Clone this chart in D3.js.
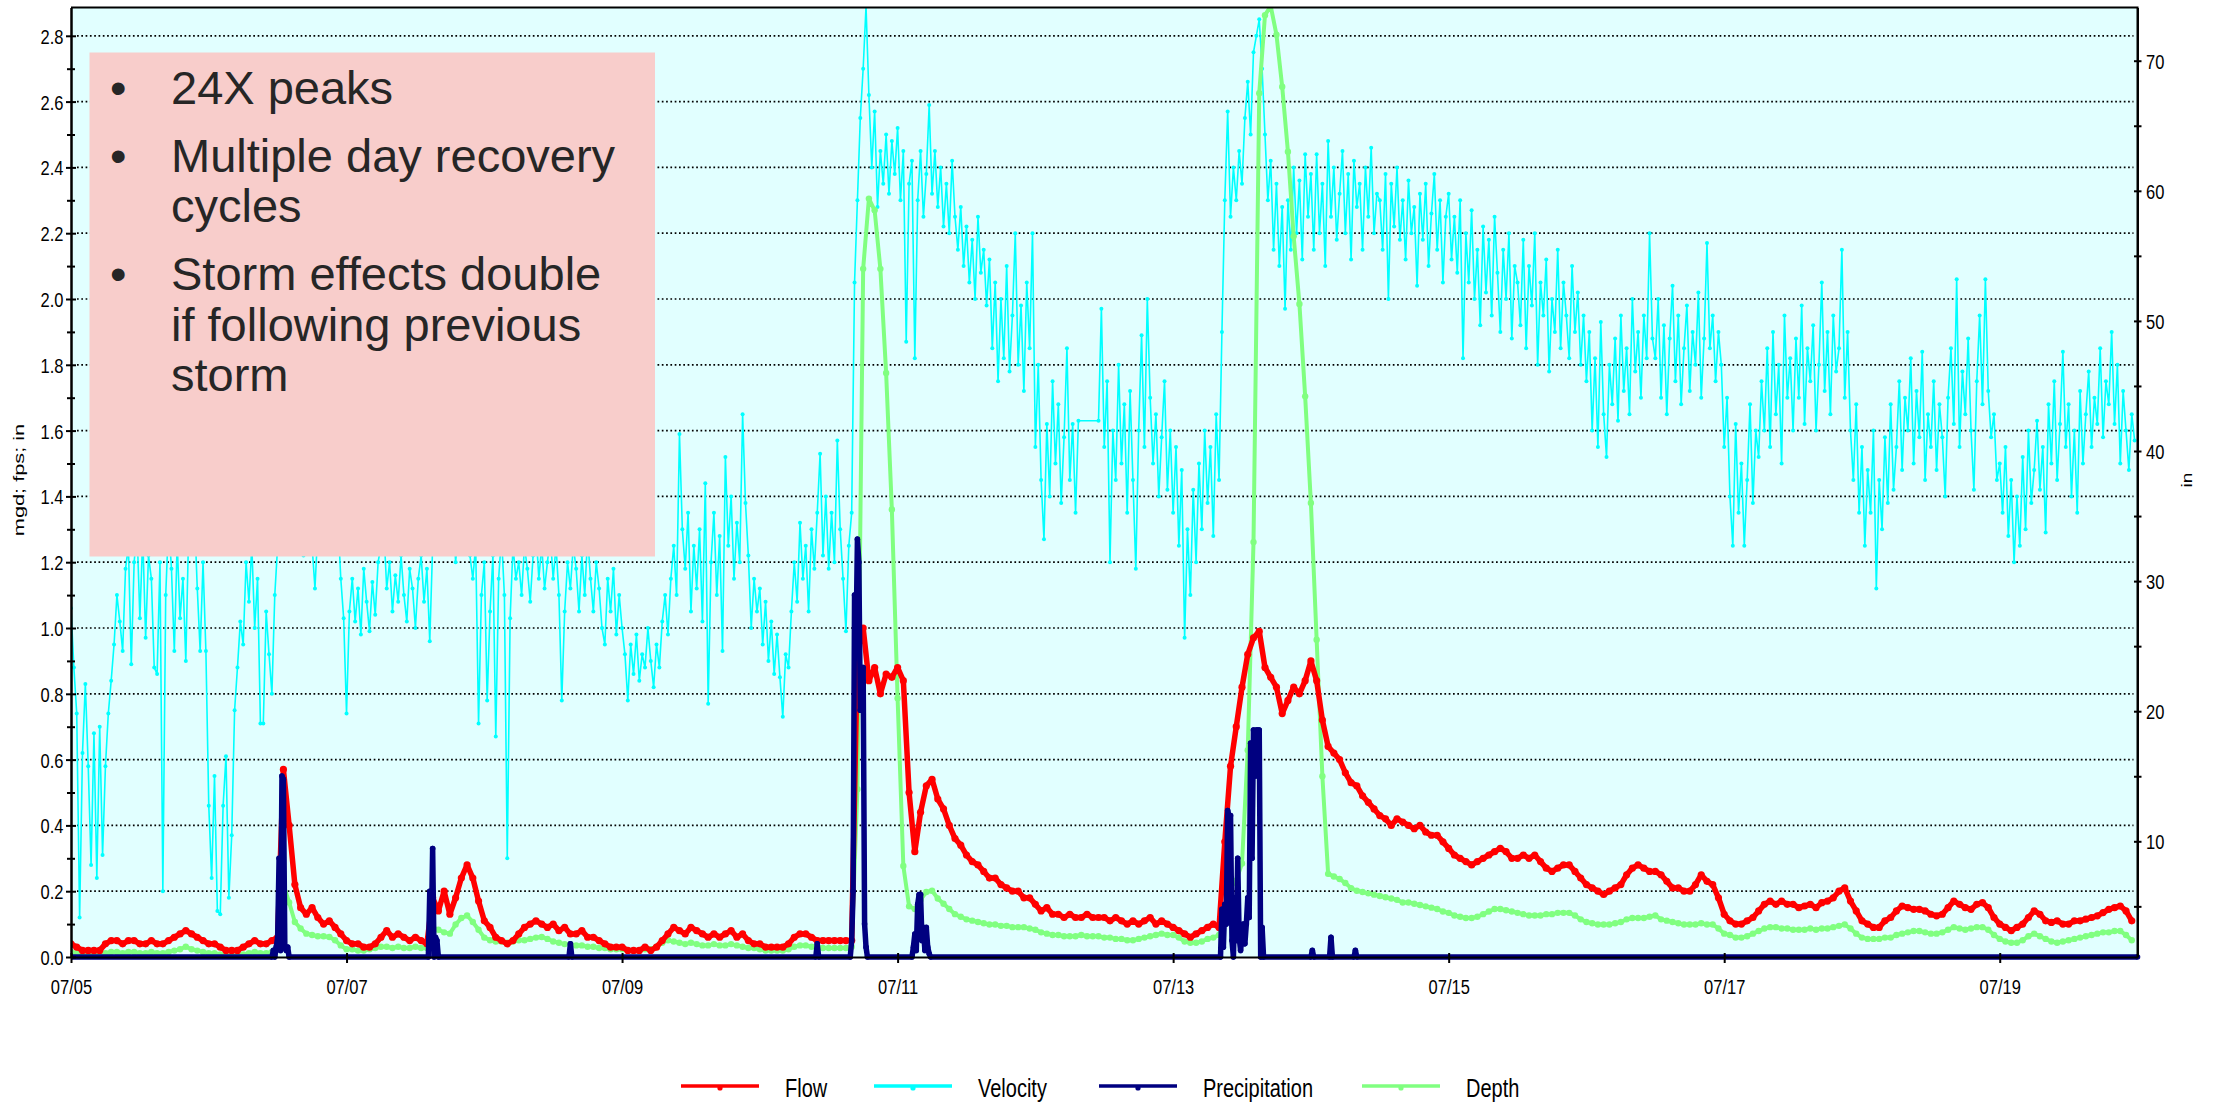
<!DOCTYPE html>
<html lang="en">
<head>
	<meta charset="UTF-8">
	<title>Flow / Velocity / Precipitation / Depth</title>
	<style>
		body { margin: 0; background: #fff; }
		svg { display: block; font-family: "Liberation Sans", Arial, sans-serif; }
	</style>
</head>
<body>

	<svg width=2221 height=1105 id="viz"></svg>

	<script src="https://d3js.org/d3.v7.min.js"></script>
	<script>

	// velocity (fps), one reading every 30 min from 07/05 00:00, 12 hours per row
	const velocity = [
		1.06,0.88,0.74,0.12,0.62,0.83,0.58,0.28,0.68,0.24,0.70,0.31,0.58,0.74,0.84,0.95,1.10,1.02,0.93,1.18,1.25,0.89,1.20,1.30,
		1.03,1.28,0.97,1.22,1.15,0.88,0.86,1.20,0.20,1.10,1.32,1.18,0.93,1.26,1.03,1.15,0.90,1.30,1.24,1.35,1.12,0.93,1.20,0.93,
		0.46,0.24,0.55,0.14,0.13,0.46,0.61,0.18,0.37,0.75,0.88,1.02,0.95,1.20,1.08,1.25,1.00,1.15,0.71,0.71,1.05,0.92,0.80,1.10,
		1.25,1.30,1.28,1.35,1.24,1.32,1.40,1.26,1.30,1.22,1.36,1.28,1.25,1.12,1.30,1.34,1.27,1.38,1.25,1.30,1.24,1.33,1.15,1.03,
		0.74,1.05,1.15,1.02,1.12,0.98,1.18,1.08,0.99,1.14,1.04,1.20,1.25,1.30,1.12,1.20,1.05,1.16,1.08,1.22,1.10,1.02,1.18,1.12,
		1.00,1.15,1.22,1.08,1.18,0.96,1.25,1.30,1.35,1.28,1.40,1.32,1.26,1.38,1.20,1.30,1.34,1.25,1.30,1.22,1.15,1.25,0.71,1.10,
		1.20,0.78,1.05,1.22,0.67,1.15,1.28,1.10,0.30,1.03,1.25,1.15,1.20,1.10,1.25,1.18,1.08,1.22,1.30,1.15,1.25,1.12,1.20,1.28,
		1.15,1.25,1.10,0.78,1.05,1.20,1.12,1.25,1.18,1.05,1.22,1.10,1.28,1.15,1.05,1.20,1.12,1.00,0.95,1.15,1.05,1.18,0.98,1.10,
		1.00,0.92,0.78,0.95,0.86,0.98,0.84,0.92,0.88,1.00,0.90,0.82,0.95,0.88,1.02,1.10,0.98,1.15,1.25,1.10,1.59,1.30,1.18,1.35,
		1.05,1.25,1.12,1.30,1.02,1.44,0.77,1.20,1.35,1.10,1.28,0.93,1.52,1.25,1.40,1.15,1.32,1.20,1.65,1.38,1.22,1.00,1.15,1.05,
		1.12,0.95,1.08,0.90,1.02,0.86,0.98,0.85,0.73,0.92,0.88,1.05,1.20,1.08,1.32,1.15,1.25,1.05,1.30,1.18,1.35,1.53,1.22,1.40,
		1.18,1.35,1.20,1.57,1.30,1.15,0.99,1.25,1.35,2.05,2.30,2.55,2.70,2.89,2.62,2.40,2.57,2.28,2.45,2.35,2.50,2.32,2.48,2.38,
		2.52,2.30,2.45,1.87,2.35,2.42,1.82,2.30,2.45,2.25,2.38,2.59,2.32,2.45,2.28,2.40,2.22,2.35,2.20,2.42,2.25,2.15,2.28,2.10,
		2.22,2.05,2.18,2.00,2.25,2.08,2.15,1.98,2.12,1.85,2.05,1.75,2.00,1.82,2.10,1.78,1.95,2.20,1.80,1.98,1.72,2.05,1.85,2.20,
		1.55,1.80,1.45,1.27,1.62,1.40,1.75,1.50,1.68,1.38,1.58,1.85,1.45,1.62,1.35,1.63,null,null,null,null,null,null,1.63,1.97,
		1.55,1.75,1.20,1.60,1.45,1.80,1.50,1.68,1.35,1.72,1.45,1.18,1.60,1.89,1.55,2.00,1.70,1.50,1.65,1.40,1.58,1.75,1.42,1.60,
		1.35,1.55,1.25,1.48,0.97,1.30,1.10,1.42,1.20,1.50,1.30,1.60,1.38,1.55,1.28,1.65,1.45,1.90,2.30,2.57,2.25,2.40,2.30,2.45,
		2.35,2.55,2.66,2.50,2.75,2.80,2.85,2.70,2.50,2.30,2.42,2.15,2.35,2.10,2.28,1.97,2.30,2.15,2.40,2.20,2.36,2.12,2.44,2.25,
		2.38,2.15,2.44,2.20,2.35,2.10,2.48,2.25,2.40,2.18,2.32,2.45,2.20,2.38,2.12,2.42,2.28,2.35,2.15,2.40,2.25,2.46,2.20,2.32,
		2.30,2.15,2.38,2.00,2.35,2.22,2.40,2.18,2.30,2.12,2.36,2.20,2.28,2.04,2.32,2.18,2.35,2.10,2.26,2.38,2.15,2.30,2.05,2.25,
		2.32,2.12,2.25,2.08,2.30,1.82,2.20,2.05,2.27,2.00,2.15,1.92,2.22,2.02,2.18,1.95,2.25,2.08,1.90,2.15,2.00,2.20,1.88,2.10,
		2.05,1.92,2.18,1.85,2.10,1.98,2.20,1.80,2.05,1.95,2.12,1.78,2.00,1.90,2.15,1.85,2.05,1.95,1.82,2.10,1.90,2.02,1.80,1.95,
		1.75,1.90,1.60,1.82,1.55,1.93,1.65,1.52,1.80,1.68,1.88,1.63,1.95,1.72,1.85,1.65,2.00,1.78,1.90,1.70,1.95,1.82,2.20,1.88,
		1.82,2.00,1.70,1.92,1.65,1.88,2.04,1.75,1.95,1.68,1.85,1.98,1.72,1.90,1.80,2.02,1.70,1.88,2.17,1.85,1.95,1.75,1.90,1.80,
		1.55,1.70,1.40,1.25,1.62,1.35,1.50,1.25,1.45,1.68,1.38,1.60,1.52,1.75,1.60,1.85,1.55,1.90,1.65,1.80,1.50,1.95,1.70,1.82,
		1.60,1.88,1.70,1.98,1.62,1.85,1.75,1.92,1.60,1.80,2.05,1.72,1.90,1.65,1.95,1.78,1.85,2.15,1.70,1.90,1.60,1.45,1.68,1.35,
		1.55,1.25,1.48,1.35,1.60,1.12,1.45,1.30,1.58,1.38,1.68,1.42,1.55,1.75,1.48,1.70,1.60,1.82,1.50,1.72,1.58,1.84,1.45,1.65,
		1.55,1.75,1.48,1.68,1.58,1.40,1.70,1.85,1.62,2.06,1.55,1.78,1.65,1.88,1.60,1.42,1.75,1.95,1.68,2.06,1.72,1.58,1.65,1.45,
		1.50,1.35,1.55,1.28,1.45,1.20,1.40,1.25,1.52,1.30,1.60,1.38,1.48,1.63,1.42,1.55,1.29,1.68,1.50,1.75,1.45,1.62,1.84,1.55,
		1.68,1.40,1.60,1.35,1.72,1.50,1.65,1.78,1.55,1.70,1.62,1.85,1.58,1.75,1.68,1.90,1.62,1.80,1.50,1.72,1.60,1.48,1.65,1.57
	];

	// flow (mgd), hourly from 07/05 00:00, 12 hours per row
	const flow = [
		0.04,0.03,0.02,0.02,0.02,0.02,0.04,0.05,0.05,0.04,0.05,0.05,
		0.04,0.04,0.05,0.04,0.04,0.05,0.06,0.07,0.08,0.07,0.06,0.05,
		0.04,0.04,0.03,0.02,0.02,0.02,0.03,0.04,0.05,0.04,0.04,0.05,
		0.06,0.57,0.40,0.22,0.15,0.13,0.15,0.12,0.10,0.11,0.09,0.07,
		0.05,0.04,0.04,0.03,0.03,0.04,0.06,0.08,0.06,0.07,0.06,0.05,
		0.06,0.05,0.04,0.18,0.14,0.20,0.13,0.18,0.24,0.28,0.24,0.17,
		0.11,0.09,0.06,0.05,0.04,0.05,0.07,0.09,0.10,0.11,0.10,0.09,
		0.10,0.08,0.09,0.07,0.07,0.08,0.06,0.06,0.05,0.04,0.03,0.03,
		0.03,0.02,0.02,0.02,0.03,0.02,0.03,0.05,0.07,0.09,0.08,0.07,
		0.09,0.08,0.07,0.06,0.07,0.06,0.07,0.08,0.06,0.07,0.05,0.04,
		0.04,0.03,0.03,0.03,0.03,0.04,0.06,0.07,0.07,0.06,0.05,0.05,
		0.05,0.05,0.05,0.05,0.05,0.93,1.00,0.84,0.88,0.80,0.86,0.85,
		0.88,0.84,0.50,0.32,0.44,0.52,0.54,0.48,0.45,0.40,0.36,0.34,
		0.31,0.29,0.28,0.26,0.24,0.24,0.22,0.21,0.20,0.20,0.18,0.18,
		0.16,0.14,0.15,0.13,0.13,0.12,0.13,0.12,0.12,0.13,0.12,0.12,
		0.12,0.11,0.12,0.11,0.10,0.11,0.10,0.11,0.12,0.10,0.11,0.10,
		0.09,0.08,0.07,0.06,0.07,0.08,0.09,0.10,0.09,0.35,0.58,0.70,
		0.82,0.92,0.97,0.99,0.88,0.85,0.82,0.74,0.78,0.82,0.80,0.84,
		0.90,0.84,0.72,0.64,0.62,0.60,0.56,0.53,0.52,0.49,0.47,0.45,
		0.43,0.42,0.40,0.42,0.41,0.40,0.39,0.40,0.38,0.37,0.37,0.35,
		0.33,0.31,0.30,0.29,0.28,0.29,0.30,0.31,0.32,0.33,0.32,0.30,
		0.30,0.31,0.30,0.31,0.29,0.27,0.26,0.27,0.28,0.28,0.26,0.24,
		0.22,0.21,0.20,0.19,0.20,0.21,0.22,0.25,0.27,0.28,0.27,0.26,
		0.26,0.25,0.23,0.21,0.21,0.20,0.20,0.22,0.25,0.23,0.22,0.18,
		0.13,0.11,0.10,0.10,0.11,0.12,0.14,0.16,0.17,0.16,0.17,0.16,
		0.16,0.15,0.155,0.16,0.15,0.165,0.17,0.18,0.20,0.21,0.17,0.14,
		0.11,0.10,0.09,0.09,0.11,0.12,0.14,0.155,0.15,0.145,0.145,0.14,
		0.13,0.125,0.13,0.15,0.17,0.16,0.15,0.145,0.16,0.165,0.15,0.12,
		0.10,0.09,0.08,0.09,0.10,0.12,0.14,0.13,0.11,0.105,0.11,0.10,
		0.10,0.11,0.11,0.115,0.12,0.125,0.135,0.145,0.15,0.155,0.14,0.11
	];

	// depth (in), hourly from 07/05 00:00, right axis
	const depth = [
		1.5,1.4,1.3,1.3,1.3,1.3,1.4,1.5,1.5,1.4,1.5,1.5,
		1.4,1.4,1.5,1.4,1.4,1.5,1.6,1.7,1.9,1.7,1.6,1.5,
		1.4,1.4,1.3,1.2,1.2,1.2,1.3,1.4,1.5,1.4,1.4,1.5,
		2.0,6.7,5.3,3.8,3.3,2.9,2.8,2.7,2.7,2.65,2.4,2.0,
		1.7,1.7,1.6,1.6,1.7,1.8,1.9,1.9,1.8,1.9,1.8,1.8,
		1.9,1.8,1.8,3.4,3.2,3.0,2.9,3.6,4.1,4.3,3.8,3.2,
		2.6,2.4,2.3,2.3,2.2,2.3,2.4,2.4,2.5,2.6,2.65,2.5,
		2.3,2.2,2.1,2.1,2.0,2.0,1.9,1.9,1.8,1.8,1.7,1.7,
		1.7,1.6,1.6,1.6,1.7,1.7,1.9,2.2,2.4,2.3,2.2,2.1,
		2.2,2.1,2.0,2.0,2.1,2.0,2.0,2.1,2.0,1.9,1.8,1.8,
		1.7,1.6,1.6,1.6,1.6,1.7,1.9,2.0,2.0,1.9,1.9,1.8,
		1.8,1.8,1.8,1.8,1.9,14,54,59.4,58.5,54,46,35.5,
		21,8.1,5.0,4.8,5.5,6.1,6.2,5.6,5.2,4.8,4.4,4.2,
		4.0,3.9,3.8,3.7,3.6,3.6,3.5,3.5,3.4,3.4,3.4,3.3,
		3.2,3.0,2.9,2.8,2.8,2.7,2.7,2.7,2.8,2.7,2.7,2.7,
		2.6,2.6,2.5,2.5,2.4,2.4,2.5,2.6,2.7,2.8,2.9,2.8,
		2.8,2.6,2.3,2.2,2.2,2.3,2.5,2.6,2.8,4.5,6.4,7.0,
		8.3,17,33,67.5,73.5,74.2,72,68,63,56.5,51.3,44.2,
		36,25.5,15,7.5,7.3,7.1,6.8,6.4,6.2,6.1,6.0,5.9,
		5.8,5.7,5.6,5.5,5.3,5.3,5.2,5.1,5.0,4.9,4.8,4.6,
		4.5,4.3,4.2,4.1,4.1,4.2,4.4,4.6,4.8,4.8,4.7,4.6,
		4.5,4.4,4.3,4.3,4.3,4.4,4.4,4.5,4.5,4.5,4.3,4.0,
		3.8,3.7,3.6,3.6,3.6,3.7,3.8,4.0,4.1,4.1,4.1,4.2,
		4.3,4.0,3.9,3.8,3.7,3.6,3.6,3.6,3.7,3.6,3.6,3.3,
		2.9,2.8,2.6,2.6,2.7,2.9,3.1,3.3,3.4,3.4,3.3,3.3,
		3.2,3.2,3.2,3.3,3.2,3.3,3.3,3.4,3.5,3.6,3.3,2.9,
		2.6,2.5,2.5,2.5,2.6,2.6,2.8,2.9,3.0,3.1,3.1,3.0,
		2.9,2.9,3.0,3.2,3.4,3.3,3.2,3.3,3.4,3.4,3.2,2.8,
		2.5,2.3,2.2,2.2,2.4,2.7,2.9,2.7,2.5,2.3,2.2,2.3,
		2.4,2.5,2.6,2.7,2.8,2.9,3.0,3.0,3.1,3.1,2.8,2.4
	];

	// precipitation (in): [hours after 07/05 00:00, value], zero outside the listed storms
	const precipitation = [
		[0,0],
		[35,0],[35.25,0.02],[35.5,0],[35.75,0.03],[36,0.06],[36.25,0.3],[36.5,0.02],[36.75,0.55],[37,0.54],[37.25,0.03],[37.5,0.02],[37.75,0.03],[38,0],
		[62.25,0],[62.5,0.2],[62.75,0.05],[63,0.33],[63.25,0],[63.5,0.06],[63.75,0.05],[64,0],
		[86.75,0],[87,0.04],[87.25,0],
		[129.75,0],[130,0.04],[130.25,0],
		[135.75,0],[136,0.05],[136.25,0.2],[136.5,1.1],[136.75,0.95],[137,1.27],[137.25,1.2],[137.5,0.75],[137.75,0.84],[138,0.88],[138.25,0.1],[138.5,0.03],[138.75,0],
		[146.5,0],[146.75,0.03],[147,0.07],[147.25,0.02],[147.5,0.16],[147.75,0.19],[148,0.19],[148.25,0.05],[148.5,0.09],[148.75,0.02],[149,0.09],[149.25,0.03],[149.5,0.01],[149.75,0],
		[200.25,0],[200.5,0.145],[200.75,0.03],[201,0.16],[201.25,0.1],[201.5,0.445],[201.75,0.43],[202,0.43],[202.25,0.05],[202.5,0],
		[202.75,0.18],[203,0.05],[203.25,0.3],[203.5,0.06],[203.75,0.02],[204,0.06],[204.25,0.1],[204.5,0.04],[204.75,0.1],[205,0.18],
		[205.25,0.12],[205.5,0.65],[205.75,0.3],[206,0.69],[206.25,0.55],[206.5,0.69],[206.75,0.69],[207,0.69],[207.25,0],[207.5,0.09],[207.75,0],
		[216,0],[216.25,0.02],[216.5,0],
		[219.25,0],[219.5,0.06],[219.75,0],
		[223.5,0],[223.75,0.02],[224,0],
		[360,0]
	];

	const leftTicks = [0, 0.2, 0.4, 0.6, 0.8, 1.0, 1.2, 1.4, 1.6, 1.8, 2.0, 2.2, 2.4, 2.6, 2.8];
	const leftMinor = [0.1, 0.3, 0.5, 0.7, 0.9, 1.1, 1.3, 1.5, 1.7, 1.9, 2.1, 2.3, 2.5, 2.7];
	const rightTicks = [10, 20, 30, 40, 50, 60, 70];
	const rightMinor = [5, 15, 25, 35, 45, 55, 65];

	const seriesNames = ["Flow", "Velocity", "Precipitation", "Depth"];
	const seriesColors = ["#ff0000", "#00ffff", "#000080", "#80ff80"];

	const notes = [
		["24X peaks"],
		["Multiple day recovery", "cycles"],
		["Storm effects double", "if following previous", "storm"]
	];


	const T0 = Date.UTC(2019, 6, 5);
	const at = h => new Date(T0 + h * 3600e3);

	const svg = d3.select("#viz");
	const box = {left: 71, right: 2137.5, top: 7.5, bottom: 957};

	const x = d3.scaleUtc().domain([at(0), at(360)]).range([box.left, box.right]);
	const yL = d3.scaleLinear().domain([0, 2.886]).range([box.bottom, box.top]);
	// the right axis does not start at zero: its bottom edge sits at about 1.1 in
	const yR = d3.scaleLinear().domain([1.107, 74.09]).range([box.bottom, box.top]);

	const velPts = velocity.map((v, i) => ({t: at(i * 0.5), v: v})).filter(d => d.v !== null);
	const flowPts = flow.map((v, i) => ({t: at(i), v: v}));
	const depthPts = depth.map((v, i) => ({t: at(i), v: v}));
	const rainPts = precipitation.map(d => ({t: at(d[0]), v: d[1]}));

	// plot background
	svg.append("rect")
		.attr("x", box.left).attr("y", box.top)
		.attr("width", box.right - box.left).attr("height", box.bottom - box.top)
		.attr("fill", "#e1ffff");

	// dotted grid on the left major ticks
	svg.append("g").selectAll("line")
		.data(leftTicks.filter(d => d > 0))
		.join("line")
			.attr("x1", box.left + 6).attr("x2", box.right - 4)
			.attr("y1", d => yL(d)).attr("y2", d => yL(d))
			.attr("stroke", "#000")
			.attr("stroke-width", 1.7)
			.attr("stroke-dasharray", "1.7,2.6");

	svg.append("clipPath").attr("id", "clip")
		.append("rect")
		.attr("x", box.left).attr("y", box.top)
		.attr("width", box.right - box.left + 4).attr("height", box.bottom - box.top + 6);

	const plot = svg.append("g").attr("clip-path", "url(#clip)");

	function drawSeries(pts, y, color, lw, r) {
		const g = plot.append("g");
		g.append("path")
			.datum(pts)
			.attr("fill", "none")
			.attr("stroke", color)
			.attr("stroke-width", lw)
			.attr("stroke-linejoin", "round")
			.attr("d", d3.line().x(d => x(d.t)).y(d => y(d.v)));
		g.selectAll("circle")
			.data(pts)
			.join("circle")
				.attr("cx", d => x(d.t))
				.attr("cy", d => y(d.v))
				.attr("r", r)
				.attr("fill", color);
	}

	drawSeries(velPts, yL, seriesColors[1], 1.6, 2);
	drawSeries(depthPts, yR, seriesColors[3], 4, 3.2);
	drawSeries(flowPts, yL, seriesColors[0], 5.5, 3.6);
	drawSeries(rainPts, yL, seriesColors[2], 5.5, 2.8);

	// frame
	svg.append("path")
		.attr("d", `M${box.left},${box.top}H${box.right}V${box.bottom}`)
		.attr("fill", "none").attr("stroke", "#000").attr("stroke-width", 2);

	// tall, narrow labels like the original screenshot
	const stretch = "scale(1,1.27)";

	function styleLabels(g, dx, dy, anchor) {
		g.selectAll(".tick text")
			.attr("x", 0).attr("y", 0).attr("dy", "0.36em")
			.attr("text-anchor", anchor)
			.attr("transform", `translate(${dx},${dy}) ${stretch}`)
			.style("font-size", "16.5px")
			.style("font-family", "'Liberation Sans', Arial, sans-serif")
			.attr("fill", "#000");
	}

	// left axis
	const gL = svg.append("g")
		.attr("transform", `translate(${box.left},0)`)
		.call(d3.axisLeft(yL).tickValues(leftTicks).tickFormat(d3.format(".1f")).tickSizeOuter(0));
	gL.select(".domain").attr("stroke-width", 2.5);
	gL.selectAll(".tick line").attr("x1", -5).attr("x2", 5).attr("stroke-width", 2);
	styleLabels(gL, -7.5, 0, "end");

	const gLm = svg.append("g")
		.attr("transform", `translate(${box.left},0)`)
		.call(d3.axisLeft(yL).tickValues(leftMinor).tickFormat("").tickSizeOuter(0));
	gLm.select(".domain").remove();
	gLm.selectAll(".tick line").attr("x1", -4).attr("x2", 4).attr("stroke-width", 2);

	// right axis
	const gR = svg.append("g")
		.attr("transform", `translate(${box.right},0)`)
		.call(d3.axisRight(yR).tickValues(rightTicks).tickSizeOuter(0));
	gR.select(".domain").attr("stroke-width", 2);
	gR.selectAll(".tick line").attr("x1", -3.5).attr("x2", 4).attr("stroke-width", 2);
	styleLabels(gR, 8.5, 0, "start");

	const gRm = svg.append("g")
		.attr("transform", `translate(${box.right},0)`)
		.call(d3.axisRight(yR).tickValues(rightMinor).tickFormat("").tickSizeOuter(0));
	gRm.select(".domain").remove();
	gRm.selectAll(".tick line").attr("x1", -3.5).attr("x2", 4).attr("stroke-width", 2);

	// bottom axis, a label every other day
	const gB = svg.append("g")
		.attr("transform", `translate(0,${box.bottom})`)
		.call(d3.axisBottom(x).tickValues(d3.utcDay.every(2).range(at(0), at(360))).tickFormat(d3.utcFormat("%m/%d")).tickSizeOuter(0));
	gB.select(".domain").attr("stroke-width", 2);
	gB.selectAll(".tick line").attr("y1", -4).attr("y2", 6).attr("stroke-width", 2);
	styleLabels(gB, 0, 29, "middle");

	// axis titles
	svg.append("text")
		.attr("transform", "translate(24,480) rotate(-90) scale(1.45,1)")
		.attr("text-anchor", "middle")
		.style("font-size", "15px")
		.text("mgd; fps; in");

	svg.append("text")
		.attr("transform", "translate(2192,480) rotate(-90) scale(1.27,1)")
		.attr("text-anchor", "middle")
		.style("font-size", "15px")
		.text("in");

	// legend
	const legendX = [681, 874, 1099, 1362];
	const legend = svg.append("g").selectAll("g")
		.data(seriesNames)
		.join("g")
			.attr("transform", (d, i) => `translate(${legendX[i]},1086)`);
	legend.append("line")
		.attr("x1", 0).attr("x2", 78)
		.attr("stroke", (d, i) => seriesColors[i])
		.attr("stroke-width", 3.5);
	legend.append("circle")
		.attr("cx", 39).attr("cy", 2).attr("r", 2.6)
		.attr("fill", (d, i) => seriesColors[i]);
	legend.append("text")
		.attr("transform", `translate(104,2) ${stretch}`)
		.attr("dy", "0.36em")
		.style("font-size", "20px")
		.text(d => d);

	// pink note box
	svg.append("rect")
		.attr("x", 89.5).attr("y", 52.5)
		.attr("width", 565.5).attr("height", 504)
		.attr("fill", "#f8cdcb");

	const noteG = svg.append("g")
		.style("font-size", "47px")
		.attr("fill", "#262626");
	let base = 103.6;
	notes.forEach(lines => {
		noteG.append("text").attr("x", 110).attr("y", base).text("\u2022");
		lines.forEach((s, j) => {
			noteG.append("text").attr("x", 171).attr("y", base + j * 50.5).text(s);
		});
		base += (lines.length - 1) * 50.5 + 68;
	});

	</script>
</body>
</html>
